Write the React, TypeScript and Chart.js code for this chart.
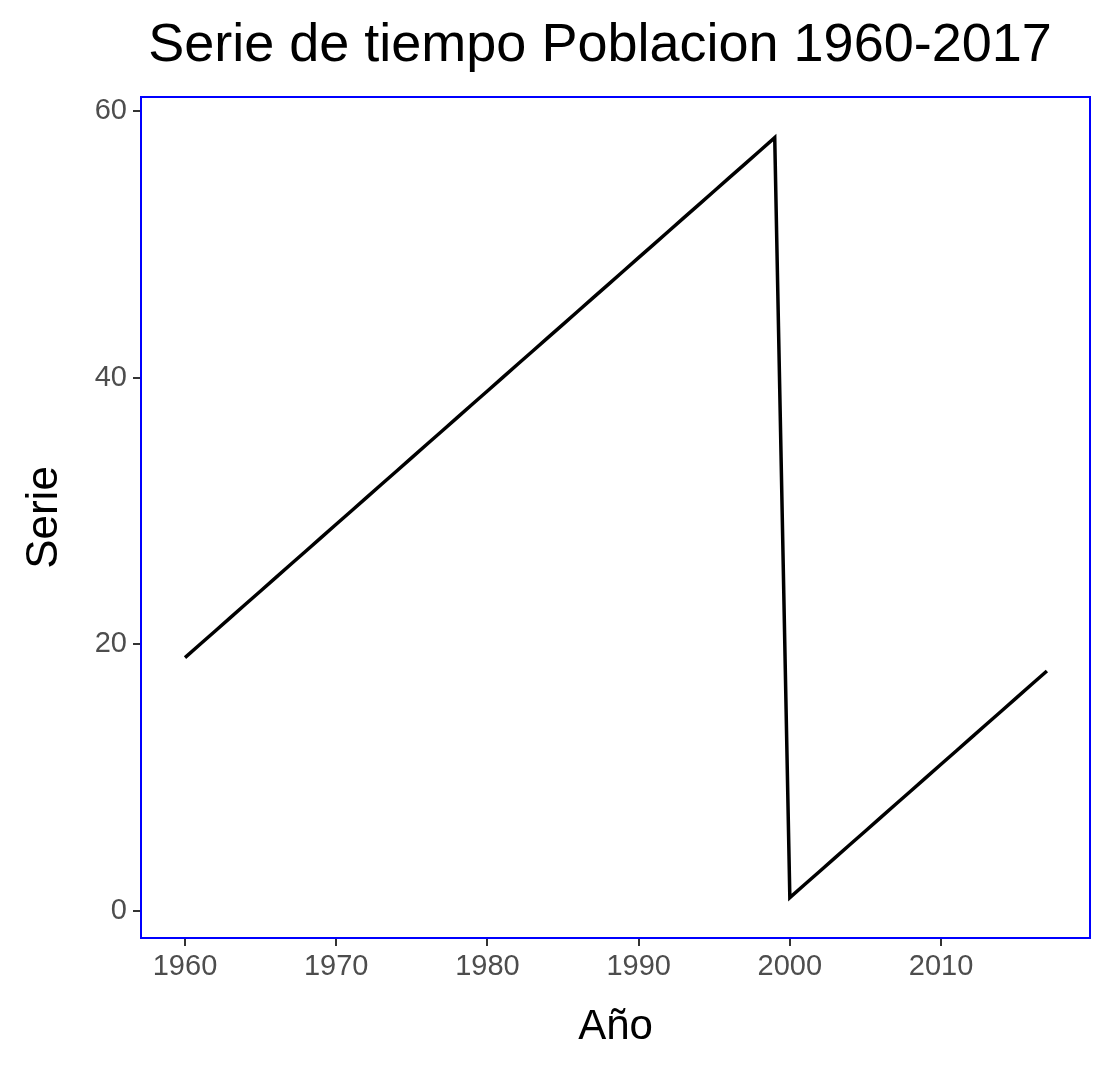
import React, { useEffect, useRef } from 'react';
import { Chart, registerables } from 'chart.js';

Chart.register(...registerables);

const years = [
  1960, 1961, 1962, 1963, 1964, 1965, 1966, 1967, 1968, 1969,
  1970, 1971, 1972, 1973, 1974, 1975, 1976, 1977, 1978, 1979,
  1980, 1981, 1982, 1983, 1984, 1985, 1986, 1987, 1988, 1989,
  1990, 1991, 1992, 1993, 1994, 1995, 1996, 1997, 1998, 1999,
  2000, 2001, 2002, 2003, 2004, 2005, 2006, 2007, 2008, 2009,
  2010, 2011, 2012, 2013, 2014, 2015, 2016, 2017,
];
const serie = [
  19, 20, 21, 22, 23, 24, 25, 26, 27, 28,
  29, 30, 31, 32, 33, 34, 35, 36, 37, 38,
  39, 40, 41, 42, 43, 44, 45, 46, 47, 48,
  49, 50, 51, 52, 53, 54, 55, 56, 57, 58,
  1, 2, 3, 4, 5, 6, 7, 8, 9, 10,
  11, 12, 13, 14, 15, 16, 17, 18,
];
const xTicks = [1960, 1970, 1980, 1990, 2000, 2010];
const yTicks = [0, 20, 40, 60];

const font = 'Arial, "Liberation Sans", sans-serif';

const framePlugin = {
  id: 'frame',
  afterDraw(chart: any) {
    const { ctx, chartArea: a } = chart;
    ctx.save();
    ctx.strokeStyle = '#0000ff';
    ctx.lineWidth = 2;
    ctx.strokeRect(a.left, a.top, a.right - a.left, a.bottom - a.top);
    ctx.fillStyle = '#000';
    ctx.font = `54px ${font}`;
    ctx.textAlign = 'center';
    ctx.textBaseline = 'middle';
    ctx.fillText('Serie de tiempo Poblacion 1960-2017', 600, 46);
    ctx.restore();
  },
};

export default function App() {
  const ref = useRef<HTMLCanvasElement>(null);

  useEffect(() => {
    if (!ref.current) return;
    const chart = new Chart(ref.current, {
      type: 'line',
      data: {
        datasets: [
          {
            data: years.map((y, i) => ({ x: y, y: serie[i] })),
            borderColor: '#000',
            borderWidth: 3.5,
            pointRadius: 0,
            tension: 0,
          },
        ],
      },
      options: {
        animation: false,
        responsive: false,
        layout: { padding: { top: 97, right: 25, left: 0, bottom: 0 } },
        plugins: { legend: { display: false }, tooltip: { enabled: false } },
        scales: {
          x: {
            type: 'linear',
            min: 1957.09,
            max: 2019.85,
            afterBuildTicks: (s: any) => { s.ticks = xTicks.map((v) => ({ value: v })); },
            afterFit: (s: any) => { s.height = 137; },
            grid: { drawOnChartArea: false, drawTicks: true, tickLength: 8, color: '#333', lineWidth: 2 },
            border: { display: false },
            ticks: { color: '#4d4d4d', font: { size: 29, family: font }, padding: 4, maxRotation: 0, callback: (v: any) => String(v) },
            title: { display: true, text: 'Año', color: '#000', font: { size: 42, family: font }, padding: { top: 4, bottom: 22 } },
          },
          y: {
            min: -2.03,
            max: 61.05,
            afterBuildTicks: (s: any) => { s.ticks = yTicks.map((v) => ({ value: v })); },
            afterFit: (s: any) => { s.width = 141; },
            grid: { drawOnChartArea: false, drawTicks: true, tickLength: 8, color: '#333', lineWidth: 2 },
            border: { display: false },
            ticks: { color: '#4d4d4d', font: { size: 29, family: font }, padding: 6, callback: (v: any) => String(v) },
            title: { display: true, text: 'Serie', color: '#000', font: { size: 44, family: font }, padding: { top: 18, bottom: 0 } },
          },
        },
      },
      plugins: [framePlugin],
    });
    return () => chart.destroy();
  }, []);

  return (
    <div style={{ position: 'fixed', left: 0, top: 0, width: 1115, height: 1075, background: '#fff' }}>
      <canvas ref={ref} width={1115} height={1075} />
    </div>
  );
}
